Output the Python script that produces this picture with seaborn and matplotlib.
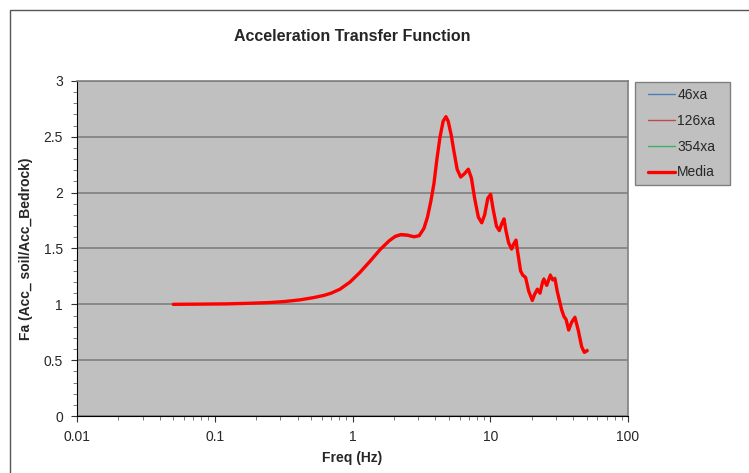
import numpy as np
import pandas as pd
import seaborn as sns
import matplotlib.pyplot as plt
from matplotlib.lines import Line2D
from matplotlib.patches import Rectangle
from matplotlib.ticker import MultipleLocator, LogLocator, FixedFormatter, FixedLocator

# frequencies (Hz)
freq = [0.05, 0.08, 0.12, 0.175, 0.25, 0.32, 0.416, 0.52, 0.62, 0.70, 0.81, 0.96,
        1.13, 1.35, 1.585, 1.85, 2.05, 2.25, 2.5, 2.8, 3.05, 3.3, 3.5, 3.7, 3.9,
        4.1, 4.32, 4.55, 4.77, 4.95, 5.2, 5.45, 5.75, 6.1, 6.5, 6.93, 7.3, 7.7,
        8.2, 8.67, 9.1, 9.6, 10.07, 10.5, 11.1, 11.64, 12.1, 12.58, 13.0, 13.6,
        14.29, 14.8, 15.37, 15.9, 16.6, 17.2, 18.06, 19.0, 20.2, 21.0, 21.97,
        22.97, 24.0, 24.5, 25.7, 27.3, 28.4, 29.5, 30.6, 31.7, 33.0, 34.3, 35.5,
        37.1, 39.0, 41.2, 43.5, 46.1, 48.2, 50.6]

media = [1.000, 1.002, 1.004, 1.009, 1.016, 1.025, 1.040, 1.060, 1.080, 1.100, 1.135, 1.20,
         1.285, 1.39, 1.49, 1.57, 1.61, 1.625, 1.62, 1.605, 1.615, 1.68, 1.78, 1.92, 2.08,
         2.30, 2.50, 2.64, 2.68, 2.64, 2.52, 2.37, 2.21, 2.14, 2.17, 2.21, 2.13, 1.95,
         1.78, 1.73, 1.80, 1.95, 1.985, 1.85, 1.70, 1.66, 1.72, 1.765, 1.66, 1.55,
         1.495, 1.54, 1.575, 1.45, 1.30, 1.262, 1.24, 1.12, 1.035, 1.09, 1.135,
         1.10, 1.20, 1.225, 1.17, 1.26, 1.22, 1.23, 1.12, 1.04, 0.95, 0.89, 0.865,
         0.77, 0.84, 0.883, 0.77, 0.62, 0.57, 0.585]

s46 = [1.000, 1.002, 1.004, 1.009, 1.016, 1.025, 1.040, 1.060, 1.080, 1.100, 1.135, 1.20,
       1.285, 1.39, 1.49, 1.57, 1.60, 1.615, 1.61, 1.60, 1.61, 1.68, 1.78, 1.92, 2.08,
       2.30, 2.50, 2.64, 2.67, 2.64, 2.52, 2.37, 2.21, 2.14, 2.17, 2.21, 2.13, 1.95,
       1.78, 1.73, 1.80, 1.95, 1.98, 1.85, 1.70, 1.66, 1.72, 1.76, 1.66, 1.55,
       1.495, 1.54, 1.57, 1.45, 1.30, 1.26, 1.24, 1.12, 1.035, 1.09, 1.13,
       1.10, 1.20, 1.22, 1.17, 1.25, 1.21, 1.22, 1.12, 1.04, 0.95, 0.885, 0.86,
       0.77, 0.835, 0.875, 0.77, 0.62, 0.57, 0.58]

s126 = [1.000, 1.002, 1.004, 1.009, 1.016, 1.025, 1.040, 1.060, 1.080, 1.100, 1.135, 1.20,
        1.285, 1.39, 1.49, 1.57, 1.61, 1.625, 1.62, 1.605, 1.615, 1.68, 1.78, 1.92, 2.08,
        2.30, 2.50, 2.64, 2.68, 2.64, 2.52, 2.37, 2.21, 2.14, 2.17, 2.21, 2.13, 1.95,
        1.78, 1.73, 1.80, 1.95, 1.985, 1.85, 1.70, 1.66, 1.72, 1.765, 1.66, 1.55,
        1.495, 1.54, 1.575, 1.45, 1.30, 1.262, 1.24, 1.12, 1.035, 1.09, 1.135,
        1.10, 1.20, 1.225, 1.17, 1.26, 1.22, 1.23, 1.12, 1.04, 0.95, 0.89, 0.865,
        0.77, 0.84, 0.883, 0.77, 0.62, 0.57, 0.585]

s354 = [1.000, 1.002, 1.004, 1.009, 1.016, 1.025, 1.040, 1.060, 1.080, 1.100, 1.135, 1.20,
        1.285, 1.39, 1.49, 1.57, 1.61, 1.625, 1.62, 1.605, 1.615, 1.68, 1.78, 1.92, 2.08,
        2.30, 2.50, 2.64, 2.69, 2.64, 2.52, 2.37, 2.21, 2.14, 2.17, 2.215, 2.13, 1.95,
        1.78, 1.73, 1.80, 1.95, 1.99, 1.85, 1.70, 1.66, 1.72, 1.77, 1.66, 1.55,
        1.495, 1.54, 1.58, 1.45, 1.30, 1.27, 1.25, 1.12, 1.035, 1.09, 1.145,
        1.11, 1.21, 1.24, 1.18, 1.275, 1.23, 1.245, 1.12, 1.04, 0.95, 0.90, 0.875,
        0.77, 0.85, 0.895, 0.77, 0.62, 0.58, 0.60]

labels = ['46xa', '126xa', '354xa', 'Media']
colors = ['#4a7ebb', '#be4b48', '#3cb064', '#ff0000']
widths = [1.0, 1.0, 1.0, 2.4]

yticks = [0, 0.5, 1, 1.5, 2, 2.5, 3]
ytick_labels = ['0', '0.5', '1', '1.5', '2', '2.5', '3']
xticks = [0.01, 0.1, 1, 10, 100]
xtick_labels = ['0.01', '0.1', '1', '10', '100']

sns.set_style('ticks')
plt.rcParams['font.family'] = ['Liberation Sans', 'DejaVu Sans']

fig = plt.figure(figsize=(7.49, 4.73), dpi=100)
ax = fig.add_axes([77/749, 57/473, 551/749, 335/473])
ax.set_facecolor('#c0c0c0')

df = pd.DataFrame({'freq': freq, '46xa': s46, '126xa': s126, '354xa': s354, 'Media': media})
for lab, c, w in zip(labels, colors, widths):
    sns.lineplot(data=df, x='freq', y=lab, color=c, linewidth=w, ax=ax)

ax.set_xscale('log')
ax.set_xlim(0.01, 100)
ax.set_ylim(0, 3)
ax.yaxis.set_major_locator(FixedLocator(yticks))
ax.yaxis.set_major_formatter(FixedFormatter(ytick_labels))
ax.yaxis.set_minor_locator(MultipleLocator(0.1))
ax.xaxis.set_major_locator(FixedLocator(xticks))
ax.xaxis.set_major_formatter(FixedFormatter(xtick_labels))
ax.xaxis.set_minor_locator(LogLocator(base=10, subs=np.arange(2, 10)))
ax.grid(axis='y', which='major', color='#808080', linewidth=1.2)
ax.grid(axis='x', visible=False)
ax.tick_params(axis='both', which='major', direction='out', length=4, width=0.8,
               labelsize=10, pad=6, color='#333333')
ax.tick_params(axis='both', which='minor', direction='out', length=3, width=0.6,
               color='#666666')
for side in ['left', 'bottom']:
    ax.spines[side].set_color('#000000')
    ax.spines[side].set_linewidth(0.8)
for side in ['top', 'right']:
    ax.spines[side].set_visible(True)
    ax.spines[side].set_color('#808080')
    ax.spines[side].set_linewidth(1.2)

ax.set_xlabel('Freq (Hz)', fontsize=10, fontweight='bold', labelpad=5)
ax.set_ylabel('Fa (Acc_ soil/Acc_Bedrock)', fontsize=10, fontweight='bold', labelpad=8)
ax.set_title('Acceleration Transfer Function', fontsize=11.5, fontweight='bold', pad=29)

# legend frame drawn separately so the padding matches the Excel box
fig.patches.append(Rectangle((635/749, 1 - 185/473), 95/749, 103/473, transform=fig.transFigure,
                             facecolor='#c0c0c0', edgecolor='#808080', linewidth=1.0, zorder=0))
handles = [Line2D([0], [0], color=c, linewidth=w) for c, w in zip(colors, widths)]
leg = fig.legend(handles, labels, loc='upper left', bbox_to_anchor=(648/749, 1 - 88/473),
                 frameon=False, fontsize=10, handlelength=1.95,
                 handletextpad=0.15, labelspacing=0.85, borderpad=0, borderaxespad=0)

# outer chart border
fig.patches.append(Rectangle((10/749, -0.05), 1.1, 1 - 10/473 + 0.05, transform=fig.transFigure,
                             fill=False, edgecolor='#555555', linewidth=1.0))

fig.savefig('out.png', dpi=100)
